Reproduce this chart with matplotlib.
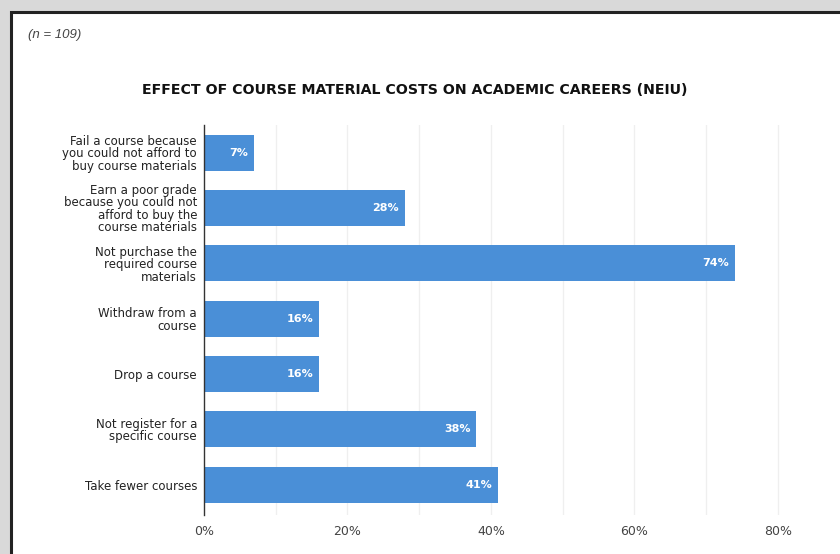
import matplotlib.pyplot as plt
from matplotlib.patches import Rectangle

categories = [
    "Fail a course because\nyou could not afford to\nbuy course materials",
    "Earn a poor grade\nbecause you could not\nafford to buy the\ncourse materials",
    "Not purchase the\nrequired course\nmaterials",
    "Withdraw from a\ncourse",
    "Drop a course",
    "Not register for a\nspecific course",
    "Take fewer courses",
]
percent = [7, 28, 74, 16, 16, 38, 41]
tick_values = [0, 20, 40, 60, 80]
tick_labels = ["0%", "20%", "40%", "60%", "80%"]

bar_color = "#4a8fd7"

fig = plt.figure(figsize=(8.4, 5.54), dpi=100, facecolor="#d9d9d9")

# white panel with dark border, running off the right and bottom edges
panel = Rectangle((11 / 840, -0.05), 1.2, 1.05 - 12 / 554,
                  transform=fig.transFigure, facecolor="white",
                  edgecolor="#222222", linewidth=2.2, zorder=-1)
fig.patches.append(panel)

ax = fig.add_axes([204 / 840, 1 - 515 / 554, (835 - 204) / 840, (515 - 125) / 554])
ax.set_facecolor("none")

y = list(range(len(categories)))
ax.barh(y, percent, height=0.65, color=bar_color, zorder=2)

for yi, v in zip(y, percent):
    ax.text(v - 0.8, yi, f"{v}%", ha="right", va="center", color="white",
            fontsize=8, fontweight="bold", zorder=3)

ax.set_ylim(6.55, -0.5)
ax.set_xlim(0, 88)

ax.set_yticks(y)
ax.set_yticklabels(categories, fontsize=8.5, color="#222222",
                   multialignment="right", linespacing=0.95)
ax.tick_params(axis="y", length=0, pad=5)

ax.set_xticks(tick_values)
ax.set_xticklabels(tick_labels, fontsize=9, color="#444444")
ax.tick_params(axis="x", length=0, pad=7)

for g in range(10, 90, 10):
    ax.axvline(g, color="#efefef", linewidth=0.9, zorder=1)

for side in ["top", "right", "bottom"]:
    ax.spines[side].set_visible(False)
ax.spines["left"].set_color("#333333")
ax.spines["left"].set_linewidth(1.0)
ax.spines["left"].set_zorder(4)

fig.text(415 / 840, 1 - 90 / 554,
         "EFFECT OF COURSE MATERIAL COSTS ON ACADEMIC CAREERS (NEIU)",
         ha="center", va="center", fontsize=10.2, fontweight="bold", color="#111111")

fig.text(28 / 840, 1 - 35 / 554, "(n = 109)", ha="left", va="center",
         fontsize=9.5, style="italic", family="Liberation Sans", color="#444444")

fig.savefig("out.png", dpi=100, facecolor=fig.get_facecolor())
